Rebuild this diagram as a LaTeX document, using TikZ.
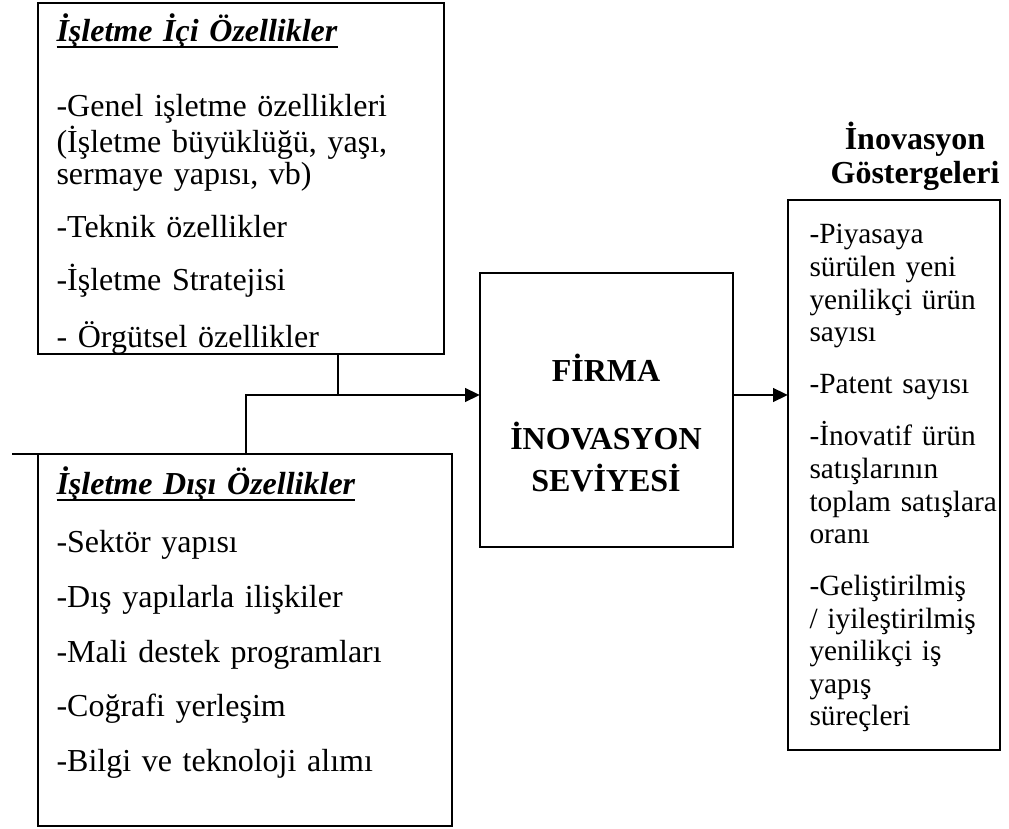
\documentclass[tikz,border=0pt]{standalone}
\usepackage{fontspec}
\setmainfont{Liberation Serif}
\usetikzlibrary{positioning,arrows.meta}
\newsavebox{\altkutu}
\newcommand{\altcizgi}[1]{\sbox{\altkutu}{#1}\rlap{\vrule width\wd\altkutu height -1.5pt depth 2.3pt}\usebox{\altkutu}}
\newcommand{\solfont}{\fontsize{12pt}{12pt}\selectfont}
\newcommand{\sagfont}{\fontsize{11pt}{12.19pt}\selectfont}
\newcommand{\ortafont}{\fontsize{12pt}{15.75pt}\selectfont\bfseries}
\newcommand{\baslikfont}{\fontsize{12pt}{12.75pt}\selectfont\bfseries}
\tikzset{
  kutu/.style={draw, line width=0.8pt, anchor=north west, inner sep=0pt, outer sep=0pt},
  metin/.style={anchor=base west, align=left, inner sep=0pt, text width=#1},
  hat/.style={line width=1.1pt},
  ok/.style={hat, -{Triangle[length=5.6pt,width=5pt]}}
}

\begin{document}
\begin{tikzpicture}[x=0.375pt, y=-0.375pt]
    \useasboundingbox (0,0) rectangle (1009,829);

    \node[kutu, minimum width=152.25pt, minimum height=131.625pt] (ic) at (38,3) {};
    \node[kutu, minimum width=155.25pt, minimum height=139.5pt] (dis) at (38,454) {};
    \node[kutu, minimum width=94.875pt, minimum height=102.75pt] (firma) at (480,273) {};
    \node[kutu, minimum width=79.5pt, minimum height=206.25pt] (gosterge) at (788,200) {};

    \node[metin=160pt, font=\solfont] (icmetin) at (56,42) {
      \altcizgi{\textbf{\textit{İşletme İçi Özellikler}}}\\[16.1pt]
      -Genel işletme özellikleri\\
      (İşletme büyüklüğü, yaşı,\\
      sermaye yapısı, vb)\\[7.9pt]
      -Teknik özellikler\\[7.9pt]
      -İşletme Stratejisi\\[7.9pt]
      - Örgütsel özellikler
    };
    \node[metin=160pt, font=\solfont] (dismetin) at (56,495) {
      \altcizgi{\textbf{\textit{İşletme Dışı Özellikler}}}\\[9.75pt]
      -Sektör yapısı\\[8.5pt]
      -Dış yapılarla ilişkiler\\[8.5pt]
      -Mali destek programları\\[8.5pt]
      -Coğrafi yerleşim\\[8.5pt]
      -Bilgi ve teknoloji alımı
    };
    \node[anchor=base, align=center, text width=90pt, inner sep=0pt, font=\ortafont] (firmametin) at (606,382) {
      FİRMA\\[9.75pt]
      İNOVASYON\\
      SEVİYESİ
    };
    \node[anchor=base, align=center, text width=80pt, inner sep=0pt, font=\baslikfont] (baslik) at (915,150) {
      İnovasyon\\
      Göstergeleri
    };
    \node[metin=80pt, font=\sagfont] (gostergemetin) at (809,244) {
      -Piyasaya\\
      sürülen yeni\\
      yenilikçi ürün\\
      sayısı\\[7.4pt]
      -Patent sayısı\\[7.4pt]
      -İnovatif ürün\\
      satışlarının\\
      toplam satışlara\\
      oranı\\[7.4pt]
      -Geliştirilmiş\\
      / iyileştirilmiş\\
      yenilikçi iş\\
      yapış\\
      süreçleri
    };

    % baglantilar
    \coordinate (giris) at (480,395);
    \coordinate (icuc) at (196,354);
    \coordinate (icdon) at (338,354);
    \coordinate (dissol) at (12,454);
    \coordinate (disdon) at (246,454);
    \draw[hat] (icuc) -- (icdon) -- (icdon |- giris);
    \draw[ok] (dissol) -- (disdon) |- (giris);
    \draw[ok] (firma.east |- giris) -- (gosterge.west |- giris);
\end{tikzpicture}
\end{document}
